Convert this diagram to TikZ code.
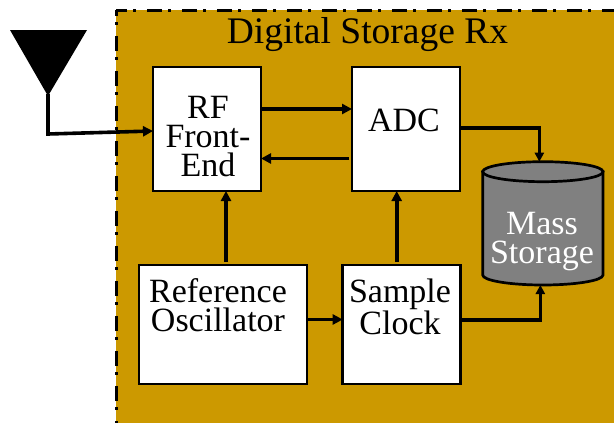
\documentclass[tikz,border=0pt]{standalone}
\usepackage{fontspec}
\setmainfont{Liberation Serif}
\usetikzlibrary{arrows.meta}
\definecolor{rxgold}{HTML}{CC9900}
\definecolor{massgray}{HTML}{808080}
\tikzset{
  blockbox/.style={draw=black,fill=white,line width=2.7pt,inner sep=0pt,outer sep=0pt},
  arr/.style={draw=black,line width=3.6pt,-{Triangle[length=10pt,width=10pt]}},
  thinarr/.style={draw=black,line width=3.1pt,-{Triangle[length=9pt,width=9pt]}},
  lbl/.style={font=\fontsize{34}{29}\selectfont,align=center,inner sep=0pt,anchor=base},
  border/.style={draw=black,line width=3pt,dash pattern=on 15pt off 6pt on 3pt off 11pt},
  cyl/.style={draw=black,fill=massgray,line width=2.7pt}
}
\begin{document}
\begin{tikzpicture}[x=1pt,y=-1pt]
\useasboundingbox (0,0) rectangle (614,423);
\fill[rxgold] (116,10) rectangle (614,423);
\draw[border,dash phase=4pt] (116,10) -- (614,10);
\draw[border,dash phase=9pt] (116,10) -- (116,423);
\node[inner sep=0pt,anchor=base,font=\fontsize{37.5}{37.5}\selectfont] (title) at (367.5,43) {Digital Storage Rx};
% antenna
\fill[black] (10,30) -- (87,30) -- (48,96) -- cycle;
\coordinate (anttip) at (48,94);
\coordinate (antbend) at (48,134);
% blocks
\node[blockbox,minimum width=108pt,minimum height=124pt] (rf) at (207,129) {};
\node[blockbox,minimum width=108pt,minimum height=124pt] (adc) at (406,129) {};
\node[blockbox,minimum width=168pt,minimum height=119pt] (ref) at (223,324.5) {};
\node[blockbox,minimum width=118pt,minimum height=119pt] (clk) at (401.7,324.5) {};
% mass storage
\path[cyl] (482.7,171.7) -- (482.7,275) arc[start angle=180,end angle=360,x radius=60.15pt,y radius=10pt] -- (603,171.7) -- cycle;
\draw[cyl] (542.85,171.7) ellipse [x radius=60.15pt,y radius=10pt];
\node[minimum width=120.3pt,minimum height=123.3pt,inner sep=0pt,outer sep=0pt] (mass) at (542.85,223.35) {};
% labels
\node[lbl] (rft) at (208,176) {RF\\Front-\\End};
\node[lbl] (adct) at (404,131.5) {ADC};
\node[lbl] (reft) at (218,331.7) {Reference\\Oscillator};
\node[lbl] (clkt) at (400,334) {Sample\\Clock};
\node[lbl,text=white] (masst) at (542,263) {Mass\\Storage};
% connectors
\draw[arr] (anttip) -- (antbend) -- ([yshift=-2pt]rf.west);
\draw[arr] ([yshift=20pt]rf.east) -- ([yshift=20pt]adc.west);
\draw[arr] ([shift={(-3pt,-29.5pt)}]adc.west) -- ([yshift=-29.5pt]rf.east);
\draw[arr] ([shift={(3pt,3pt)}]ref.north) -- ([xshift=19pt]rf.south);
\draw[arr] ([shift={(-5pt,3pt)}]clk.north) -- ([xshift=-9.3pt]adc.south);
\draw[arr] ([yshift=5pt]ref.east) -- ([yshift=5pt]clk.west);
\draw[thinarr] (adc.east |- 0,128) -| ([xshift=-3.5pt]mass.north);
\draw[thinarr] (clk.east |- 0,320) -| ([xshift=-2.5pt]mass.south);
\end{tikzpicture}
\end{document}
